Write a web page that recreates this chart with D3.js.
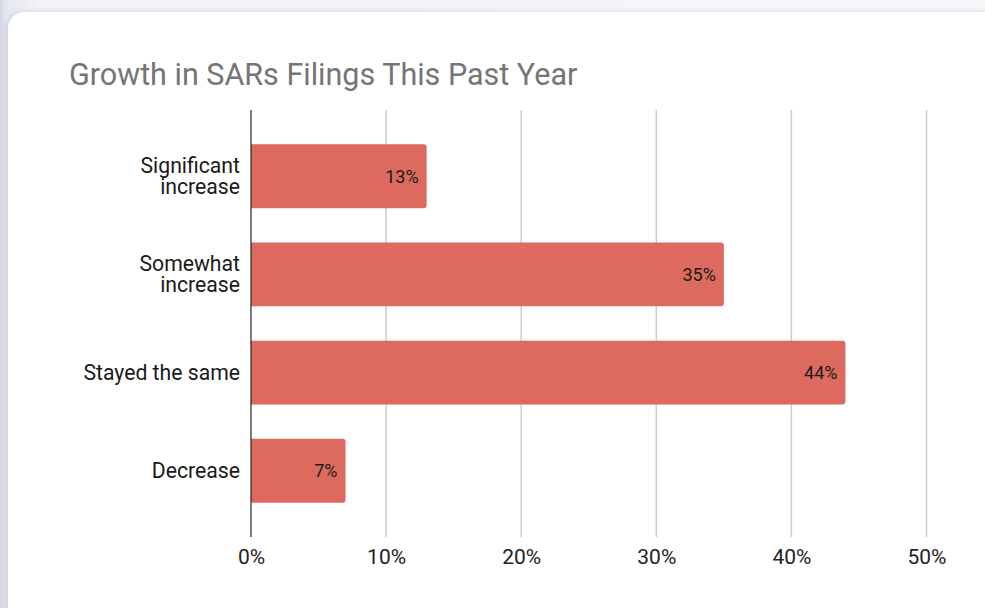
<!DOCTYPE html>
<html>
<head>
<meta charset="utf-8">
<script src="https://cdn.jsdelivr.net/npm/d3@7"></script>
<style>
  html, body { margin: 0; padding: 0; }
  body {
    width: 985px; height: 608px; overflow: hidden;
    background: linear-gradient(to right, #d3d6e5 0px, #e6e8f1 6px, #f3f4f8 40px, #f7f7fa 100%);
    font-family: Roboto, "Noto Sans", Arial, sans-serif;
  }
  .card {
    position: absolute; left: 8px; top: 12px; width: 1000px; height: 620px;
    background: #fff; border-radius: 16px;
    box-shadow: -2px 0 6px rgba(150,155,185,0.35);
  }
  svg { position: absolute; left: 0; top: 0; }
</style>
</head>
<body>
<div class="card"></div>
<svg id="chart" width="985" height="608"></svg>
<script>
// Survey responses: change in SAR filings over the past year
const categories = [["Significant", "increase"], ["Somewhat", "increase"], ["Stayed the same"], ["Decrease"]];
const values = [13, 35, 44, 7];
const tickValues = [0, 10, 20, 30, 40, 50];
const title = "Growth in SARs Filings This Past Year";

const svg = d3.select("#chart");
const margin = { left: 251, right: 58.5, top: 110, bottom: 71 };
const W = 985, H = 608;

const x = d3.scaleLinear().domain([0, 50]).range([margin.left, W - margin.right]);
const y = d3.scaleBand()
  .domain(d3.range(categories.length))
  .range([margin.top, H - margin.bottom])
  .padding(0.35);

// Title
svg.append("text")
  .attr("x", 69).attr("y", 85)
  .attr("font-size", 30.5)
  .attr("fill", "#757575")
  .text(title);

// Vertical gridlines
svg.append("g")
  .selectAll("line")
  .data(tickValues.filter(d => d > 0))
  .join("line")
  .attr("x1", d => x(d)).attr("x2", d => x(d))
  .attr("y1", margin.top).attr("y2", H - margin.bottom)
  .attr("stroke", "#cccccc").attr("stroke-width", 1.5);

// Bottom axis labels
const xAxis = d3.axisBottom(x).tickValues(tickValues).tickSize(0).tickPadding(12)
  .tickFormat(d => d + "%");
const gx = svg.append("g")
  .attr("transform", `translate(0,${H - margin.bottom})`)
  .call(xAxis);
gx.select(".domain").remove();
gx.selectAll("text")
  .attr("font-family", "Roboto, sans-serif")
  .attr("font-size", 21)
  .attr("fill", "#222");

// Bars with slightly rounded right corners
const r = 3;
svg.append("g")
  .selectAll("path")
  .data(values)
  .join("path")
  .attr("fill", "#dc6a5e")
  .attr("d", (d, i) => {
    const x0 = x(0), x1 = x(d), y0 = y(i), h = y.bandwidth();
    return `M${x0},${y0} H${x1 - r} Q${x1},${y0} ${x1},${y0 + r} V${y0 + h - r} Q${x1},${y0 + h} ${x1 - r},${y0 + h} H${x0} Z`;
  });

// Value labels inside bar ends
svg.append("g")
  .selectAll("text")
  .data(values)
  .join("text")
  .attr("x", d => x(d) - 8)
  .attr("y", (d, i) => y(i) + y.bandwidth() / 2)
  .attr("dy", "0.35em")
  .attr("text-anchor", "end")
  .attr("font-size", 18)
  .attr("fill", "#1a1a1a")
  .text(d => d + "%");

// Zero baseline
svg.append("line")
  .attr("x1", x(0)).attr("x2", x(0))
  .attr("y1", margin.top).attr("y2", H - margin.bottom)
  .attr("stroke", "#222").attr("stroke-width", 1.2);

// Category labels (wrapped onto multiple lines)
const lineH = 21;
const cat = svg.append("g")
  .selectAll("text")
  .data(categories)
  .join("text")
  .attr("text-anchor", "end")
  .attr("font-size", 21.2)
  .attr("fill", "#1a1a1a")
  .attr("transform", (d, i) => `translate(240,${y(i) + y.bandwidth() / 2})`);
cat.each(function(lines) {
  const t = d3.select(this);
  const off = -(lines.length - 1) * lineH / 2;
  lines.forEach((s, k) => {
    t.append("tspan").attr("x", 0).attr("y", off + k * lineH).attr("dy", "0.35em").text(s);
  });
});
</script>
</body>
</html>
